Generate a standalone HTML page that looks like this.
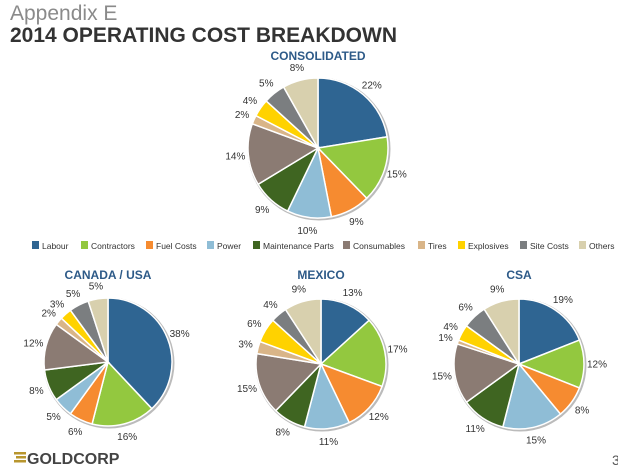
<!DOCTYPE html>
<html><head><meta charset="utf-8"><style>
body{margin:0;background:#fff;width:618px;height:470px;overflow:hidden;font-family:"Liberation Sans",sans-serif}
svg{position:absolute;left:0;top:0}
</style></head><body>
<svg id="c" width="618" height="470">
<text x="10" y="20" font-size="21" fill="#8a8a8a">Appendix E</text>
<text x="10" y="42" font-size="21" font-weight="bold" fill="#333">2014 OPERATING COST BREAKDOWN</text>
<g>
<rect x="14" y="452" width="12" height="2.5" fill="#b8962e"/><rect x="16" y="456" width="10" height="2.5" fill="#b8962e"/><rect x="14" y="460" width="12" height="2.5" fill="#b8962e"/>
<text x="27" y="464" font-size="16" font-weight="bold" fill="#444">GOLDCORP</text></g>
<text x="612" y="465" font-size="14" fill="#555">3</text>
</svg>
<script>
const categories=["Labour","Contractors","Fuel Costs","Power","Maintenance Parts","Consumables","Tires","Explosives","Site Costs","Others"];
const consolidated=[22,15,9,10,9,14,2,4,5,8];
const canadaUsa=[38,16,6,5,8,12,2,3,5,5];
const mexico=[13,17,12,11,8,15,3,6,4,9];
const csa=[19,12,8,15,11,15,1,4,6,9];
const colors=["#2f6592","#93c83f","#f68b30","#8fbdd6","#3f6521","#8b7b73","#d9b588","#ffd200","#7b7e80","#d8d0ae"];
const svg=document.getElementById('c');const NS="http://www.w3.org/2000/svg";
function mk(t,a){const e=document.createElementNS(NS,t);for(const k in a)e.setAttribute(k,a[k]);svg.appendChild(e);return e;}
function pie(vals,cx,cy,r,title,ty,name){
 const tt=mk('text',{x:cx,y:ty,'text-anchor':'middle','font-size':12,'font-weight':'bold',fill:'#2d5a88'});
 tt.textContent=title;
 
 
 mk('circle',{cx:cx+1,cy:cy+1,r:r+1.5,fill:'#bbb'});
 const tot=vals.reduce((a,b)=>a+b,0);let a0=-Math.PI/2;
 vals.forEach((v,i)=>{
  const a1=a0+v/tot*2*Math.PI;
  const x0=cx+r*Math.cos(a0),y0=cy+r*Math.sin(a0),x1=cx+r*Math.cos(a1),y1=cy+r*Math.sin(a1);
  const p=mk('path',{d:`M${cx},${cy}L${x0},${y0}A${r},${r} 0 ${a1-a0>Math.PI?1:0} 1 ${x1},${y1}Z`,fill:colors[i],stroke:'#fff','stroke-width':1.5});
  
  
  const am=(a0+a1)/2,lr=r+13;
  const t=mk('text',{x:cx+lr*Math.cos(am),y:cy+lr*Math.sin(am)+3.5,'text-anchor':'middle','font-size':10,fill:'#333'});
  t.textContent=v+'%';
  
  
  a0=a1;});
}
pie(consolidated,318,148,70,"CONSOLIDATED",60,"consolidated");
pie(canadaUsa,108,362,64,"CANADA / USA",279,"canada-usa");
pie(mexico,321,364,65,"MEXICO",279,"mexico");
pie(csa,519,364,65,"CSA",279,"csa");
const lx=[32,81,146,207,253,343,418,458,520,579];
categories.forEach((c,i)=>{
 const r=mk('rect',{x:lx[i],y:241,width:7,height:8,fill:colors[i]});
 
 
 const t=mk('text',{x:lx[i]+10,y:249,'font-size':8.5,fill:'#333'});
 t.textContent=c;
 
 
});
</script>
</body></html>
